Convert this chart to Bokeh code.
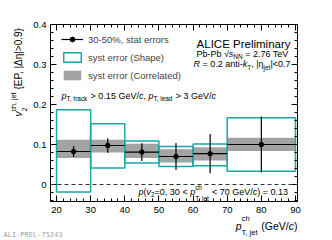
import math
from bokeh.plotting import figure
from bokeh.models import (Label, LinearAxis, FixedTicker, CustomJSTickFormatter,
                          Span, Legend, LegendItem)
from bokeh.embed import file_html
from bokeh.resources import INLINE

# ---------------- data ----------------
bin_lo = [20, 30, 40, 50, 60, 70]
bin_hi = [30, 40, 50, 60, 70, 90]
bin_center = [25, 35, 45, 55, 65, 80]
v2 = [0.0825, 0.0975, 0.081, 0.070, 0.077, 0.100]
stat_err = [0.014, 0.018, 0.022, 0.034, 0.049, 0.070]
shape_lo = [-0.019, 0.041, 0.054, 0.045, 0.047, 0.033]
shape_hi = [0.187, 0.152, 0.109, 0.095, 0.101, 0.167]
corr_lo = [0.066, 0.080, 0.066, 0.055, 0.060, 0.084]
corr_hi = [0.112, 0.112, 0.102, 0.088, 0.093, 0.117]

x_ticks = [20, 30, 40, 50, 60, 70, 80, 90]
x_minor = [22, 24, 26, 28, 32, 34, 36, 38, 42, 44, 46, 48, 52, 54, 56, 58,
           62, 64, 66, 68, 72, 74, 76, 78, 82, 84, 86, 88, 90]
y_ticks = [0.0, 0.1, 0.2, 0.3, 0.4]
y_tick_labels = ["0", "0.1", "0.2", "0.3", "0.4"]
y_minor = [-0.04, -0.02, 0.02, 0.04, 0.06, 0.08, 0.12, 0.14, 0.16, 0.18,
           0.22, 0.24, 0.26, 0.28, 0.32, 0.34, 0.36, 0.38]

legend_labels = ["30-50%, stat errors", "syst error (Shape)", "syst error (Correlated)"]

XR = (18.24, 90.59)
YR = (-0.0425, 0.4)

CYAN = "#1aa6a6"
GRAY = "#a3a3a3"
FONT = "Liberation Sans"

# ---------------- figure ----------------
W_FIG, H_FIG = 332, 240
B_L, B_R, B_T, B_B = 50, 35, 24, 39
p = figure(width=W_FIG, height=H_FIG, x_range=XR, y_range=YR,
           output_backend="svg", toolbar_location=None,
           min_border_left=B_L, min_border_right=B_R, min_border_top=B_T, min_border_bottom=B_B)
p.xgrid.visible = False
p.ygrid.visible = False
p.outline_line_color = "black"
p.outline_line_width = 1
p.background_fill_color = "white"

# canvas coords of the frame
FX0, FX1 = B_L, W_FIG - B_R
FY0, FY1 = B_T, H_FIG - B_B


def dx(px):
    return XR[0] + (px - FX0) / (FX1 - FX0) * (XR[1] - XR[0])


def dy(py):
    return YR[1] - (py - FY0) / (FY1 - FY0) * (YR[1] - YR[0])


def style_axis(ax, ticks, minor, labels=True):
    ax.ticker = FixedTicker(ticks=ticks, minor_ticks=minor)
    ax.axis_line_color = "black"
    ax.major_tick_line_color = "black"
    ax.minor_tick_line_color = "black"
    ax.major_tick_in = 6
    ax.major_tick_out = 0
    ax.minor_tick_in = 3
    ax.minor_tick_out = 0
    ax.major_label_text_font = FONT
    ax.major_label_text_font_size = "9.5px"
    ax.major_label_text_color = "black"
    if not labels:
        ax.formatter = CustomJSTickFormatter(code="return ''")
        ax.major_label_standoff = 0
        ax.major_label_text_font_size = "1px"


style_axis(p.xaxis[0], x_ticks, x_minor)
p.xaxis[0].major_label_standoff = 5
style_axis(p.yaxis[0], y_ticks, y_minor)
p.yaxis[0].major_label_standoff = 4
p.yaxis[0].major_label_overrides = {t: l for t, l in zip(y_ticks, y_tick_labels)}

top_ax = LinearAxis()
style_axis(top_ax, x_ticks, x_minor, labels=False)
p.add_layout(top_ax, "above")
right_ax = LinearAxis()
style_axis(right_ax, y_ticks, y_minor, labels=False)
p.add_layout(right_ax, "right")

# ---------------- data glyphs ----------------
r_corr = p.quad(left=bin_lo, right=bin_hi, bottom=corr_lo, top=corr_hi,
                fill_color=GRAY, line_color=None)
r_shape = p.quad(left=bin_lo, right=bin_hi, bottom=shape_lo, top=shape_hi,
                 fill_color=None, line_color=CYAN, line_width=1.5)
p.add_layout(Span(location=0, dimension="width", line_color="#333333",
                  line_width=1.2, line_dash="4 3"))
r_xerr = p.segment(x0=bin_lo, y0=v2, x1=bin_hi, y1=v2, line_color="black", line_width=1.2)
y_low = [v - e for v, e in zip(v2, stat_err)]
y_high = [v + e for v, e in zip(v2, stat_err)]
p.segment(x0=bin_center, y0=y_low, x1=bin_center, y1=y_high, line_color="black", line_width=1.2)
r_pts = p.scatter(bin_center, v2, marker="circle", size=4.5, fill_color="black", line_color="black")

legend = Legend(items=[LegendItem(label=legend_labels[0], renderers=[r_xerr, r_pts]),
                       LegendItem(label=legend_labels[1], renderers=[r_shape]),
                       LegendItem(label=legend_labels[2], renderers=[r_corr])],
                location=(11, 120), padding=0, margin=0, spacing=6,
                glyph_width=22, glyph_height=12, label_height=12, label_standoff=5,
                label_text_font=FONT, label_text_font_size="9.5px",
                border_line_color=None, background_fill_alpha=0)
p.add_layout(legend, "center")

# ---------------- text helpers ----------------
AW = {' ': 278, '!': 278, '%': 889, '(': 333, ')': 333, ',': 278, '-': 333, '.': 278,
      '/': 278, '0': 556, '1': 556, '2': 556, '3': 556, '4': 556, '5': 556, '6': 556,
      '7': 556, '8': 556, '9': 556, '<': 584, '=': 584, '>': 584, '{': 334, '}': 334,
      '|': 260, 'A': 667, 'C': 722, 'E': 667, 'G': 778, 'I': 278, 'L': 556, 'N': 722,
      'P': 667, 'R': 722, 'T': 611, 'V': 667, 'a': 556, 'b': 556, 'c': 500, 'd': 556,
      'e': 556, 'h': 556, 'i': 222, 'j': 222, 'k': 500, 'l': 222, 'm': 833, 'n': 556,
      'o': 556, 'p': 556, 'r': 333, 's': 500, 't': 278, 'v': 500, 'y': 500,
      'Δ': 668, 'η': 560, '√': 549}


def tw(s, size):
    return sum(AW.get(c, 556) for c in s) * size / 1000.0


def put(px, py, s, size, italic=False, angle=0.0, color="black", font=FONT, side="center"):
    p.add_layout(Label(x=dx(px), y=dy(py), text=s, text_font=font,
                       text_font_size=f"{size}px",
                       text_font_style="italic" if italic else "normal",
                       text_baseline="middle", text_align="left",
                       angle=angle, text_color=color), side)


def seg_width(seg, size):
    kind, t = seg[0], seg[1]
    sm = size * 0.72
    if kind == "n":
        return tw(t, size)
    if kind in ("sub", "sup"):
        return tw(t, sm)
    return max(tw(t[0], sm), tw(t[1], sm))


def rich(px, py, segs, size, angle=0.0, align="left", sup_off=0.55, sub_off=0.55):
    """segs: (kind, text, italic, side) ; for kind 'ss': text=(sub, sup), side=(sub_side, sup_side).
    Texts outside the frame are placed in side panels so they are not clipped."""
    ux, uy = math.cos(angle), -math.sin(angle)
    nx, ny = math.sin(angle), math.cos(angle)
    total = sum(seg_width(s, size) for s in segs)
    x = -total if align == "right" else 0.0
    sm = size * 0.72

    def place(t, off, fs, italic, adv, side):
        lead = len(t) - len(t.lstrip(" "))
        txt = t.strip(" ")
        if txt:
            a = adv + tw(" " * lead, fs)
            put(px + ux * a + nx * off, py + uy * a + ny * off, txt, fs, italic, angle, side=side)

    for seg in segs:
        kind, t, it, side = seg
        if kind == "n":
            place(t, 0, size, it, x, side)
        elif kind == "sub":
            place(t, size * 0.35, sm, it, x, side)
        elif kind == "sup":
            place(t, -size * sup_off, sm, it, x, side)
        else:
            place(t[0], size * sub_off, sm, it, x, side[0])
            place(t[1], -size * sup_off, sm, it, x, side[1])
        x += seg_width(seg, size)


C = "center"
# ---------------- texts ----------------
# y-axis title (rotated); pieces spread over side panels with spare room
rich(18, 116, [("n", "v", True, "left"), ("ss", ("2", "ch, jet"), False, ("below", "left")),
               ("n", " {EP, |Δη|>0.9}", False, "right")], 10, angle=math.pi / 2)
# x-axis title
rich(297, 225, [("n", "p", True, "right"), ("ss", ("T, jet", "ch"), False, ("below", "left")),
                ("n", " (GeV/", False, "above"), ("n", "c", True, "right"), ("n", ")", False, "right")],
     10.5, align="right", sup_off=0.65, sub_off=0.65)

# ALICE block
rich(290, 43, [("n", "ALICE Preliminary", False, C)], 11.5, align="right")
rich(289, 53, [("n", "Pb-Pb ", False, C), ("n", "√", False, C), ("n", "s", True, C),
               ("sub", "NN", False, C), ("n", " = 2.76 TeV", False, C)], 9, align="right")
rich(290, 63.5, [("n", "R", True, C), ("n", " = 0.2 anti-", False, C), ("n", "k", True, C),
                 ("sub", "T", False, C), ("n", ", |", False, C), ("n", "η", False, C),
                 ("sub", "jet", False, C), ("n", "|<0.7", False, C)], 9, align="right")

# cuts
rich(61, 95, [("n", "p", True, C), ("sub", "T, track", False, C), ("n", " > 0.15 GeV/", False, C),
              ("n", "c", True, C), ("n", ", ", False, C), ("n", "p", True, C),
              ("sub", "T, lead", False, C), ("n", " > 3 GeV/", False, C), ("n", "c", True, C)], 9)

# p-value
rich(138, 191, [("n", "p", True, C), ("n", "(", False, C), ("n", "v", True, C), ("sub", "2", False, C),
                ("n", "=0, 30 < ", False, C), ("n", "p", True, C), ("ss", ("T, jet", "ch"), False, (C, C)),
                ("n", " < 70 GeV/", False, C), ("n", "c", True, C), ("n", ") = 0.13", False, C)], 9,
     sup_off=0.45, sub_off=0.75)

# watermark
put(3, 234, "ALI-PREL-75243", 7, color="#a0a0a0", font="DejaVu Sans Mono", side="below")

open("out.html", "w").write(file_html(p, INLINE))
